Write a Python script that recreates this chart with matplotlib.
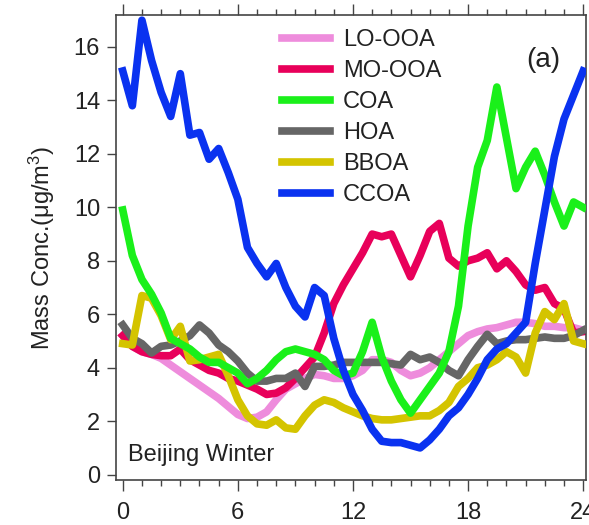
import numpy as np
import matplotlib
matplotlib.use("Agg")
import matplotlib.pyplot as plt

plt.rcParams['font.family'] = ['Liberation Sans', 'DejaVu Sans']
plt.rcParams['mathtext.fontset'] = 'custom'
plt.rcParams['mathtext.rm'] = 'Liberation Sans'
plt.rcParams['mathtext.it'] = 'Liberation Sans'

# hour of day, half-hourly
hours = np.arange(0, 24.5, 0.5)

lo_ooa = [5.2, 4.8, 4.6, 4.5, 4.35, 4.1, 3.85, 3.6, 3.35, 3.1,
          2.85, 2.55, 2.25, 2.1, 2.15, 2.35, 2.8, 3.2, 3.4, 3.6,
          3.75, 3.7, 3.6, 3.6, 3.7, 3.9, 4.3, 4.3, 4.2, 3.9,
          3.7, 3.8, 4.0, 4.3, 4.6, 4.9, 5.2, 5.35, 5.45, 5.5,
          5.6, 5.7, 5.7, 5.65, 5.55, 5.55, 5.5, 5.5, 5.4]
mo_ooa = [5.2, 4.8, 4.6, 4.5, 4.45, 4.45, 4.7, 4.3, 4.1, 3.9,
          3.8, 3.6, 3.5, 3.35, 3.2, 3.0, 3.05, 3.25, 3.6, 4.0,
          4.4, 5.3, 6.4, 7.1, 7.7, 8.3, 9.0, 8.9, 9.0, 8.2,
          7.4, 8.2, 9.1, 9.4, 8.1, 7.8, 8.0, 8.1, 8.3, 7.7,
          8.0, 7.6, 7.1, 6.9, 7.0, 6.4, 6.2, 5.3, 5.35]
coa = [9.9, 8.2, 7.3, 6.75, 6.05, 5.1, 4.9, 4.7, 4.4, 4.2,
       4.2, 4.0, 3.8, 3.4, 3.6, 3.9, 4.3, 4.6, 4.7, 4.6,
       4.5, 4.3, 3.9, 3.7, 3.8, 4.6, 5.7, 4.4, 3.5, 2.8,
       2.3, 2.8, 3.3, 3.8, 4.6, 6.3, 9.3, 11.5, 12.5, 14.5,
       12.6, 10.7, 11.5, 12.1, 11.2, 10.2, 9.3, 10.2, 10.0]
hoa = [5.6, 5.1, 4.9, 4.55, 4.8, 4.85, 5.0, 5.2, 5.6, 5.3,
       4.85, 4.6, 4.25, 3.8, 3.5, 3.5, 3.6, 3.6, 3.8, 3.3,
       4.05, 4.05, 4.1, 4.2, 4.2, 4.2, 4.2, 4.2, 4.15, 4.1,
       4.5, 4.3, 4.4, 4.2, 3.9, 3.7, 4.3, 4.8, 5.25, 4.9,
       5.0, 5.05, 5.05, 5.1, 5.15, 5.1, 5.1, 5.2, 5.4]
bboa = [4.9, 4.85, 6.7, 6.6, 5.95, 5.05, 5.55, 4.25, 4.3, 4.4,
        4.5, 3.7, 2.8, 2.2, 1.9, 1.85, 2.05, 1.75, 1.7, 2.2,
        2.6, 2.8, 2.7, 2.5, 2.35, 2.2, 2.1, 2.05, 2.05, 2.1,
        2.15, 2.2, 2.2, 2.4, 2.7, 3.3, 3.6, 4.0, 4.1, 4.3,
        4.6, 4.4, 3.8, 5.3, 6.1, 5.8, 6.4, 5.0, 4.9]
ccoa = [15.1, 13.8, 17.0, 15.5, 14.3, 13.4, 15.0, 12.7, 12.8, 11.8,
        12.2, 11.3, 10.3, 8.5, 7.9, 7.4, 7.9, 7.0, 6.3, 5.9,
        7.0, 6.7, 5.1, 3.9, 3.0, 2.4, 1.7, 1.25, 1.2, 1.2,
        1.1, 1.0, 1.3, 1.7, 2.2, 2.5, 3.0, 3.6, 4.3, 4.7,
        4.9, 5.3, 5.7, 7.9, 9.9, 11.9, 13.3, 14.2, 15.1]

names = ["LO-OOA", "MO-OOA", "COA", "HOA", "BBOA", "CCOA"]
series = [lo_ooa, mo_ooa, coa, hoa, bboa, ccoa]
colors = ["#ee8cdc", "#e8005a", "#1af01a", "#666666", "#d4c400", "#0a32f0"]
# stacking: COA sits over HOA/BBOA, CCOA on top of everything
layers = [1, 2, 5, 3, 4, 6]

fig = plt.figure(figsize=(5.89, 5.25), dpi=100)
ax = fig.add_axes([0.197, 0.0857, 0.798, 0.886])

for name, vals, c, z in zip(names, series, colors, layers):
    ax.plot(hours, vals, color=c, lw=5.5, label=name, zorder=z)

ax.set_xlim(-0.35, 24.15)
ax.set_ylim(-0.2, 17.2)
ax.set_xticks([0, 6, 12, 18, 24])
ax.set_xticks(np.arange(0, 25, 1), minor=True)
ax.set_yticks([0, 2, 4, 6, 8, 10, 12, 14, 16])
ax.tick_params(axis='x', which='both', direction='out', top=True, labelsize=17,
               pad=8, colors="#444444", labelcolor="#222222")
ax.tick_params(axis='x', which='major', length=8, width=1)
ax.tick_params(axis='x', which='minor', length=4, width=1)
ax.tick_params(axis='y', which='major', direction='out', length=6.5, width=1,
               labelsize=17, pad=5, colors="#444444", labelcolor="#222222")
for s in ax.spines.values():
    s.set_color("#444444")
    s.set_linewidth(1.2)

ax.set_ylabel("Mass Conc.(μg/m$^{3}$)", fontsize=17, labelpad=12, color="#222222")

ax.text(0.0255, 0.054, "Beijing Winter", transform=ax.transAxes, fontsize=17,
        ha='left', va='center', color="#222222")
ax.text(0.9085, 0.903, "(a)", transform=ax.transAxes, fontsize=20,
        ha='center', va='center', color="#222222")

leg = ax.legend(loc='upper left', bbox_to_anchor=(282 / 589, 1 - 29 / 525),
                bbox_transform=fig.transFigure, frameon=False, fontsize=17,
                handlelength=2.03, handletextpad=0.55, labelspacing=0.38,
                borderpad=0, borderaxespad=0)
for t in leg.get_texts():
    t.set_color("#222222")

fig.savefig("out.png", dpi=100)
